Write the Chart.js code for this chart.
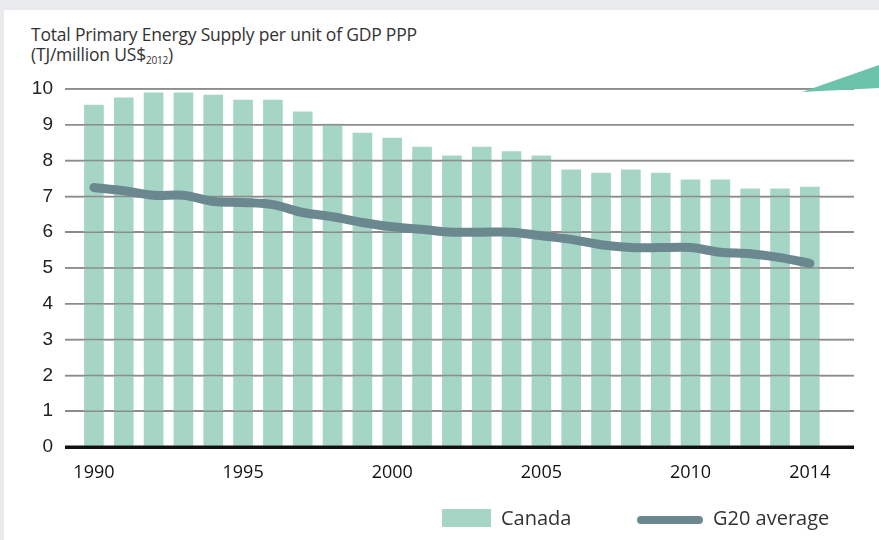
<!DOCTYPE html>
<html>
<head>
<meta charset="utf-8">
<script src="https://cdn.jsdelivr.net/npm/chart.js@4"></script>
<style>
  html, body { margin: 0; padding: 0; }
  body { width: 879px; height: 540px; background: #e9eaed; position: relative; overflow: hidden; }
  #panel { position: absolute; left: 4px; top: 10px; right: 0; bottom: 0; background: #fff; }
  #title { position: absolute; left: 31px; top: 24px; font-family: "Open Sans", sans-serif; font-size: 17.5px; line-height: 20px; color: #333; letter-spacing: -0.2px; }
  #title sub { font-size: 10px; vertical-align: -3px; line-height: 0; }
  #corner { position: absolute; left: 802px; top: 65px; width: 77px; height: 28px; background: #6cc3ac;
            clip-path: polygon(0 27px, 77px 0, 77px 23px); }
  #chartBox { position: absolute; left: 0; top: 0; width: 879px; height: 540px; }
  .legend { position: absolute; top: 504px; font-family: "Open Sans", sans-serif; font-size: 20px; color: #333; }
  .swatch { position: absolute; }
</style>
</head>
<body>
<div id="panel"></div>
<div id="title">Total Primary Energy Supply per unit of GDP PPP<br>(TJ/million US$<sub>2012</sub>)</div>
<div id="chartBox"><canvas id="chart" width="879" height="540"></canvas></div>
<div id="corner"></div>
<div class="swatch" style="left:442px;top:509px;width:49px;height:18px;background:#a4d5c5"></div>
<div class="legend" style="left:501px">Canada</div>
<div class="swatch" style="left:637px;top:516px;width:66px;height:8px;border-radius:4px;background:#6b8891"></div>
<div class="legend" style="left:713px">G20 average</div>

<script>
var years = [1990, 1991, 1992, 1993, 1994, 1995, 1996, 1997, 1998, 1999,
             2000, 2001, 2002, 2003, 2004, 2005, 2006, 2007, 2008, 2009,
             2010, 2011, 2012, 2013, 2014];
var canada = [9.55, 9.75, 9.89, 9.89, 9.83, 9.69, 9.69, 9.36, 9.02, 8.77,
              8.63, 8.38, 8.13, 8.38, 8.25, 8.13, 7.74, 7.65, 7.74, 7.65,
              7.46, 7.46, 7.21, 7.21, 7.26];
var g20 = [7.25, 7.16, 7.03, 7.03, 6.86, 6.83, 6.77, 6.55, 6.43, 6.27,
           6.15, 6.08, 6.0, 6.0, 6.0, 5.9, 5.8, 5.65, 5.57, 5.57,
           5.57, 5.44, 5.4, 5.29, 5.13];
var xTicks = [1990, 1995, 2000, 2005, 2010, 2014];
var yMax = 10;

function pts(vals) {
  return years.map(function (y, i) { return { x: y, y: vals[i] }; });
}

// redraw the gridlines between the bars and the line
var gridOverBars = {
  id: 'gridOverBars',
  beforeDatasetDraw: function (chart, args) {
    if (args.index === 0) {
      var ctx = chart.ctx;
      var area = chart.chartArea;
      var ys = chart.scales.y;
      ctx.save();
      for (var v = 0; v <= yMax; v++) {
        var py = ys.getPixelForValue(v);
        ctx.beginPath();
        ctx.strokeStyle = v === 0 ? '#111' : '#8c8c8c';
        ctx.lineWidth = v === 0 ? 3 : 1.5;
        ctx.moveTo(area.left, py);
        ctx.lineTo(area.right, py);
        ctx.stroke();
      }
      ctx.restore();
    }
  }
};

var ctx = document.getElementById('chart');
new Chart(ctx, {
  type: 'bar',
  data: {
    datasets: [
      {
        type: 'line',
        label: 'G20 average',
        data: pts(g20),
        borderColor: '#6b8891',
        borderWidth: 9,
        borderCapStyle: 'round',
        borderJoinStyle: 'round',
        pointRadius: 0,
        tension: 0.3,
        order: 0
      },
      {
        label: 'Canada',
        data: pts(canada),
        backgroundColor: '#a4d5c5',
        barThickness: 19,
        order: 1
      }
    ]
  },
  options: {
    responsive: false,
    animation: false,
    layout: { padding: { left: 0, right: 25, top: 89, bottom: 53 } },
    plugins: { legend: { display: false }, tooltip: { enabled: false } },
    scales: {
      x: {
        type: 'linear',
        offset: false,
        min: 1989.03,
        max: 2015.48,
        afterBuildTicks: function (scale) {
          scale.ticks = xTicks.map(function (v) { return { value: v }; });
        },
        afterFit: function (scale) { scale.height = 40; },
        grid: { display: false, offset: false },
        border: { display: false },
        ticks: {
          autoSkip: false,
          maxRotation: 0,
          padding: 7,
          color: '#111',
          font: { family: 'Open Sans', size: 18 },
          callback: function (v) { return String(v); }
        }
      },
      y: {
        min: 0,
        max: yMax,
        afterFit: function (scale) { scale.width = 65; },
        grid: {
          drawTicks: false,
          color: function (c) { return c.tick.value === 0 ? '#111' : '#8c8c8c'; },
          lineWidth: function (c) { return c.tick.value === 0 ? 3 : 1.5; }
        },
        border: { display: false },
        ticks: {
          stepSize: 1,
          padding: 12,
          color: '#222',
          font: { family: 'Liberation Sans', size: 19 }
        }
      }
    }
  },
  plugins: [gridOverBars]
});
</script>
</body>
</html>
